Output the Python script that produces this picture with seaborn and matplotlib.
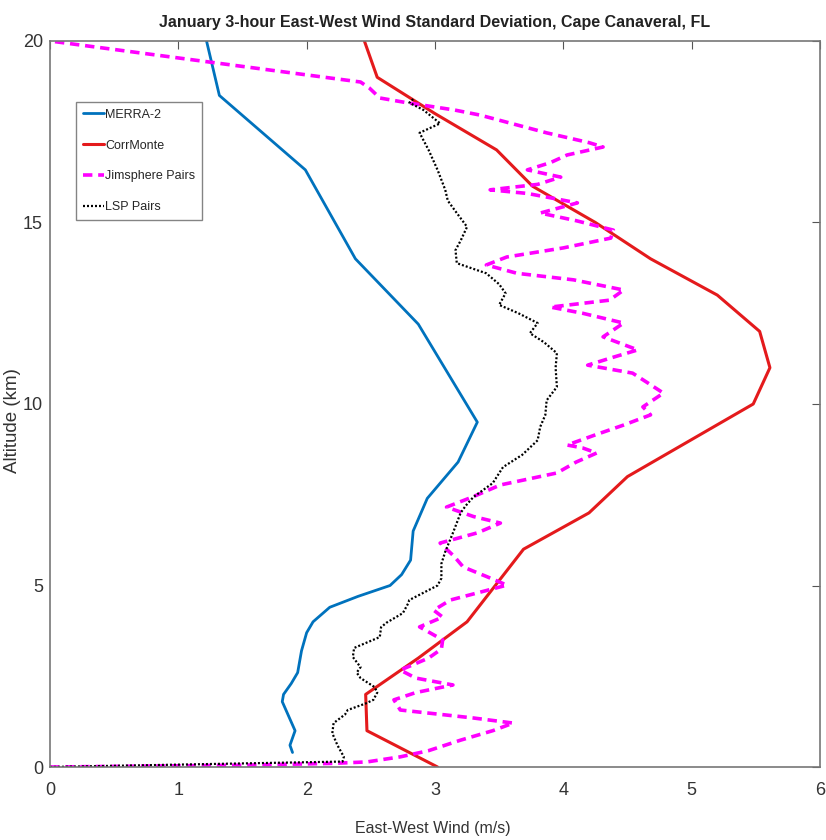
import matplotlib
matplotlib.use("Agg")
import matplotlib.pyplot as plt
import seaborn as sns

# ---- data (altitude km, east-west wind std m/s) ----
merra_alt = [0.4, 0.6, 1.0, 1.4, 1.8, 2.0, 2.3, 2.6, 3.2, 3.7, 4.0, 4.4, 4.7, 5.0, 5.3, 5.7,
             6.5, 7.4, 8.4, 9.5, 12.2, 14.0, 16.45, 18.5, 20.0]
merra_val = [1.89, 1.87, 1.91, 1.86, 1.81, 1.82, 1.88, 1.93, 1.96, 2.00, 2.05, 2.18, 2.40, 2.65,
             2.74, 2.81, 2.83, 2.94, 3.18, 3.33, 2.87, 2.38, 1.99, 1.32, 1.22]

corr_alt = [0, 1, 2, 3, 4, 5, 6, 7, 8, 9, 10, 11, 12, 13, 14, 15, 16, 17, 18, 19, 20]
corr_val = [3.02, 2.47, 2.46, 2.87, 3.25, 3.47, 3.69, 4.20, 4.50, 4.99, 5.48, 5.61, 5.53, 5.20,
            4.68, 4.25, 3.76, 3.48, 3.00, 2.55, 2.45]

jim_alt = [0.00, 0.05, 0.10, 0.14, 0.28, 0.45, 0.74, 1.0, 1.21, 1.35, 1.57, 1.85, 2.05, 2.26,
           2.45, 2.67, 3.0, 3.25, 3.5, 3.86, 4.13, 4.32, 4.6, 5.01, 5.25, 5.51, 5.8, 6.17, 6.45,
           6.72, 6.9, 7.16, 7.45, 7.77, 8.1, 8.4, 8.65, 8.79, 8.87, 9.15, 9.42, 9.7, 9.92, 10.3,
           10.6, 10.85, 11.07, 11.3, 11.49, 11.85, 12.23, 12.5, 12.67, 12.86, 13.14, 13.42, 13.6,
           13.83, 14.05, 14.3, 14.57, 14.79, 15.05, 15.26, 15.54, 15.8, 15.9, 16.05, 16.25, 16.45,
           16.65, 16.86, 17.08, 17.2, 17.47, 17.96, 18.1, 18.3, 18.43, 18.7, 18.87, 20.0]
jim_val = [0.00, 1.50, 2.20, 2.47, 2.73, 2.95, 3.20, 3.45, 3.61, 3.30, 2.73, 2.68, 2.85, 3.14,
           2.85, 2.73, 2.95, 3.05, 3.06, 2.88, 3.06, 2.99, 3.12, 3.56, 3.40, 3.22, 3.15, 3.04, 3.33,
           3.51, 3.30, 3.09, 3.30, 3.51, 3.95, 4.10, 4.26, 4.15, 4.03, 4.25, 4.47, 4.68, 4.62, 4.78,
           4.65, 4.54, 4.19, 4.40, 4.58, 4.31, 4.47, 4.15, 3.90, 4.36, 4.47, 4.08, 3.64,
           3.40, 3.56, 4.00, 4.37, 4.39, 4.10, 3.82, 4.11, 3.72, 3.43, 3.80, 3.98, 3.72,
           3.90, 4.03, 4.31, 4.20, 3.87, 3.35, 3.15, 2.78, 2.57, 2.49, 2.42, 0.00]

lsp_alt = [0.00, 0.15, 0.28, 0.6, 0.93, 1.21, 1.45, 1.57, 1.75, 1.85, 2.05, 2.2, 2.45, 2.6,
           2.75, 3.03, 3.28, 3.58, 3.85, 3.97, 4.24, 4.5, 4.6, 5.0, 5.2, 5.6, 5.93, 6.45, 7.0,
           7.2, 7.44, 7.82, 8.26, 8.6, 9.0, 9.37, 9.7, 10.1, 10.47, 11.0, 11.4, 11.7, 11.95,
           12.23, 12.5, 12.73, 13.05, 13.3, 13.6, 13.88, 14.24, 14.5, 14.88, 15.26, 15.6, 15.9,
           16.45, 17.0, 17.47, 17.73, 18.1, 18.3, 18.43]
lsp_val = [0.00, 2.28, 2.29, 2.24, 2.20, 2.21, 2.30, 2.32, 2.46, 2.52, 2.55, 2.53, 2.42, 2.39,
           2.42, 2.36, 2.37, 2.57, 2.58, 2.62, 2.75, 2.79, 2.80, 3.02, 3.05, 3.05, 3.08, 3.14, 3.20,
           3.24, 3.30, 3.45, 3.53, 3.68, 3.80, 3.82, 3.86, 3.87, 3.95, 3.94, 3.95, 3.85, 3.74,
           3.80, 3.65, 3.50, 3.55, 3.50, 3.40, 3.17, 3.16, 3.20, 3.25, 3.17, 3.10, 3.08,
           3.02, 2.95, 2.88, 3.04, 2.91, 2.80, 2.84]

x_ticks = [0, 1, 2, 3, 4, 5, 6]
y_ticks = [0, 5, 10, 15, 20]

sns.set_theme(style="white")
plt.rcParams['font.family'] = ['Liberation Sans', 'DejaVu Sans']

fig = plt.figure(figsize=(8.26, 8.40), dpi=100)
ax = fig.add_axes([0.0605, 0.0869, 0.9322, 0.8643])

sns.lineplot(x=merra_val, y=merra_alt, sort=False, estimator=None, ax=ax,
             color='#0072BD', linewidth=2.0, label='MERRA-2')
sns.lineplot(x=corr_val, y=corr_alt, sort=False, estimator=None, ax=ax,
             color='#E41A1C', linewidth=2.2, label='CorrMonte')
sns.lineplot(x=jim_val, y=jim_alt, sort=False, estimator=None, ax=ax,
             color='#FF00FF', linewidth=2.6, label='Jimsphere Pairs')
sns.lineplot(x=lsp_val, y=lsp_alt, sort=False, estimator=None, ax=ax,
             color='black', linewidth=1.6, label='LSP Pairs')
lines = ax.get_lines()
lines[2].set_dashes((2.6, 1.6))
lines[3].set_linestyle((0, (0.9, 0.9)))

ax.set_xlim(0, 6)
ax.set_ylim(0, 20)
ax.set_xticks(x_ticks)
ax.set_yticks(y_ticks)
ax.tick_params(direction='in', top=True, right=True, length=6, width=0.8,
               colors='#555555', labelcolor='#333333', labelsize=13)
ax.tick_params(axis='x', pad=11)
ax.tick_params(axis='y', pad=5)
for s in ax.spines.values():
    s.set_color('#777777')
    s.set_linewidth(1.2)

ax.set_xlabel('East-West Wind (m/s)', fontsize=11.5, color='#333333')
ax.xaxis.set_label_coords(0.497, -0.074)
ax.set_ylabel('Altitude (km)', fontsize=13.5, color='#333333')
ax.yaxis.set_label_coords(-0.037, 0.477)
ax.set_title('January 3-hour East-West Wind Standard Deviation, Cape Canaveral, FL',
             fontsize=11.5, fontweight='bold', color='#222222', pad=10)

leg = ax.legend(loc='upper left', bbox_to_anchor=(0.034, 0.916), fontsize=9,
                frameon=True, fancybox=False, handlelength=1.7, handletextpad=0.05,
                borderpad=0.55, labelspacing=1.5, borderaxespad=0)
leg.get_frame().set_edgecolor('#666666')
leg.get_frame().set_linewidth(1.0)

fig.savefig('out.png', dpi=100)
